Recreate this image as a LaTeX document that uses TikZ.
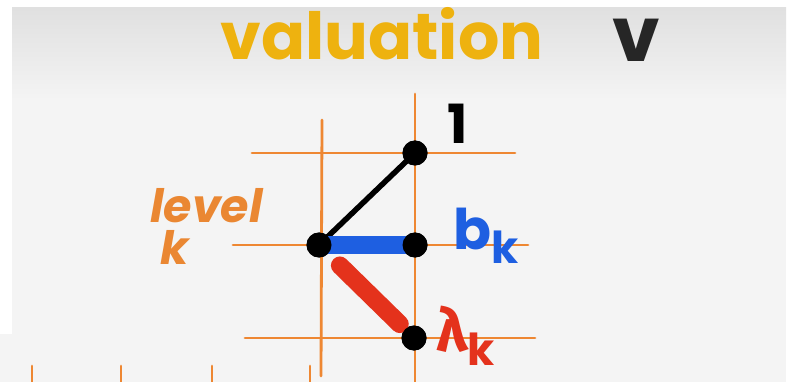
\documentclass[tikz,border=0pt]{standalone}
\usepackage{fontspec}
\usetikzlibrary{calc}
\newfontfamily\marker{Poppins}
\newfontfamily\greek{Fira Sans}
\definecolor{bgc}{RGB}{244,244,244}
\definecolor{bgtop}{RGB}{224,224,224}
\definecolor{gridor}{RGB}{238,135,50}
\definecolor{levelor}{RGB}{234,135,50}
\definecolor{gold}{RGB}{238,178,15}
\definecolor{mblue}{RGB}{30,95,225}
\definecolor{mred}{RGB}{228,50,28}
\tikzset{
  gridline/.style={draw=gridor, line width=2.8pt, line cap=round},
  dot/.style={circle, fill=black, minimum size=25pt, inner sep=0pt},
  lbl/.style={inner sep=0pt, font=\marker\bfseries},
}
\begin{document}
\begin{tikzpicture}[x=1pt,y=-1pt]
\useasboundingbox (0,0) rectangle (787,382);
\fill[white] (0,0) rectangle (787,382);
% photo background
\fill[bgc] (12,8) rectangle (786,382);
\fill[bgc] (0,334) rectangle (12,382);
\shade[top color=bgtop, bottom color=bgc] (12,8) rectangle (786,100);
% grid
\draw[gridline] (252,153) -- (515,153);
\draw[gridline] (233,245) -- (528,245);
\draw[gridline] (245,338) -- (535,338);
\draw[gridline] (322,120) -- (321,376);
\draw[gridline] (415,94) -- (415,382);
% bottom ticks
\foreach \tx in {32,121,212,310}
  \draw[gridline] (\tx,366) -- (\tx,382);
% nodes
\node[dot] (one) at (415,153) {};
\node[dot] (mid) at (319,245) {};
\node[dot] (bk) at (415,245) {};
\node[dot] (lk) at (414,338) {};
% connectors
\draw[black, line width=5.5pt] (mid.center) -- (one.center);
\draw[mblue, line width=18pt] (mid.center) -- (bk.center);
\draw[mred, line width=18pt, line cap=round] ($(mid.center)!0.22!(lk.center)$) -- ($(mid.center)!0.85!(lk.center)$);
\node[dot] at (mid) {};
\node[dot] at (bk) {};
\node[dot] at (lk) {};
\node[dot] at (one) {};
% labels
\node[lbl, text=gold, font=\marker\bfseries\fontsize{65}{66}\selectfont] (title) at (382,34) {valuation};
\node[lbl, text=black!85, font=\marker\bfseries\fontsize{76}{78}\selectfont] (v) at (636,40) {v};
\node[lbl, text=black, font=\marker\bfseries\fontsize{54}{56}\selectfont] (lone) at (458,124) {1};
\node[inner sep=0pt, text=levelor, align=left, anchor=north west, font=\marker\bfseries\itshape\fontsize{46}{44}\selectfont] (level) at (150,188) {level\\[-2pt] \hspace*{10pt}k};
\node[lbl, text=mblue, anchor=west, font=\marker\bfseries\fontsize{56}{56}\selectfont] (blab) at (453,236) {b\raisebox{-14pt}{\fontsize{44}{44}\selectfont k}};
\node[inner sep=0pt, text=mred, anchor=west, font=\greek\bfseries\fontsize{60}{60}\selectfont] (llab) at (436,336) {λ\raisebox{-14pt}{\marker\bfseries\fontsize{44}{44}\selectfont k}};
\end{tikzpicture}
\end{document}
